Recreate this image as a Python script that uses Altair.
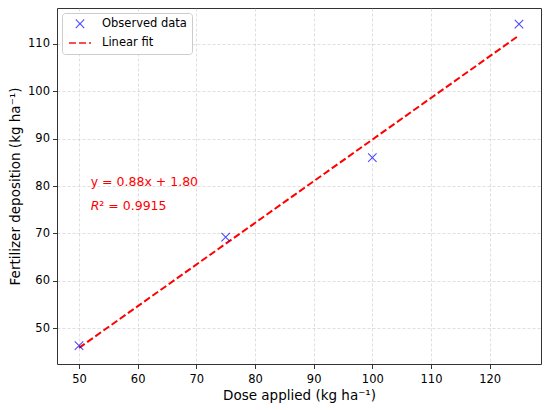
import altair as alt
import pandas as pd

# ---- data ----
dose = [50, 75, 100, 125]
deposition = [46.3, 69.2, 86.0, 114.2]
fit_dose = [50, 125]
fit_deposition = [45.8, 111.8]   # y = 0.88x + 1.80 at the end points
series_names = ["Observed data", "Linear fit"]
series_colors = ["blue", "red"]
x_ticks = [50, 60, 70, 80, 90, 100, 110, 120]
y_ticks = [50, 60, 70, 80, 90, 100, 110]
x_domain = [46.25, 128.75]
y_domain = [42.4, 117.6]
eq_text = "y = 0.88x + 1.80"
r2_value = "² = 0.9915"
eq_pos = [52, 80]
r2_pos = [52, 75]

FONT = "DejaVu Sans"
X_PATH = "M-1,-1L1,1M-1,1L1,-1"

obs = pd.DataFrame({"dose": dose, "dep": deposition, "series": series_names[0]})
fit = pd.DataFrame({"dose": fit_dose, "dep": fit_deposition, "series": series_names[1]})
ann = pd.DataFrame({"x": [eq_pos[0]], "y": [eq_pos[1]], "t": [eq_text]})
r2 = pd.DataFrame({"x": [r2_pos[0]], "y": [r2_pos[1]], "t": ["R"], "t2": [r2_value]})

xs = alt.Scale(domain=x_domain, nice=False, zero=False)
ys = alt.Scale(domain=y_domain, nice=False, zero=False)

x_enc = alt.X("dose:Q", scale=xs,
              axis=alt.Axis(values=x_ticks, title="Dose applied (kg ha⁻¹)", titlePadding=3,
                            labelPadding=5))
y_enc = alt.Y("dep:Q", scale=ys,
              axis=alt.Axis(values=y_ticks, title="Fertilizer deposition (kg ha⁻¹)", titlePadding=5,
                            labelPadding=3))

color = alt.Color("series:N", scale=alt.Scale(domain=series_names, range=series_colors), title=None,
                  legend=alt.Legend(orient="top-left"))
shape = alt.Shape("series:N", scale=alt.Scale(domain=series_names, range=[X_PATH, "stroke"]), title=None)
size = alt.Size("series:N", scale=alt.Scale(domain=series_names, range=[72, 484]), title=None)
dash = alt.StrokeDash("series:N", scale=alt.Scale(domain=series_names, range=[[1, 0], [7, 3]]), title=None)
sw = alt.StrokeWidth("series:N", scale=alt.Scale(domain=series_names, range=[1.1, 2]), title=None)

line = alt.Chart(fit).mark_line(clip=True).encode(
    x=x_enc, y=y_enc, color=color, strokeDash=dash, strokeWidth=sw)

pts = alt.Chart(obs).mark_point(filled=False, clip=True).encode(
    x=x_enc, y=y_enc, color=color, shape=shape, size=size, strokeWidth=sw)

eq = alt.Chart(ann).mark_text(align="left", baseline="alphabetic", color="red",
                              font=FONT, fontSize=12.5).encode(
    x=alt.X("x:Q", scale=xs), y=alt.Y("y:Q", scale=ys), text="t:N")
r_italic = alt.Chart(r2).mark_text(align="left", baseline="alphabetic", color="red",
                                   font=FONT, fontSize=12.5, fontStyle="italic").encode(
    x=alt.X("x:Q", scale=xs), y=alt.Y("y:Q", scale=ys), text="t:N")
r_rest = alt.Chart(r2).mark_text(align="left", baseline="alphabetic", color="red",
                                 font=FONT, fontSize=12.5, dx=8.6).encode(
    x=alt.X("x:Q", scale=xs), y=alt.Y("y:Q", scale=ys), text="t2:N")

chart = alt.layer(line, pts, eq, r_italic, r_rest).properties(
    width=484, height=356,
    autosize=alt.AutoSizeParams(type="none"),
    padding={"left": 49, "top": 0, "right": 1, "bottom": 42},
).configure_view(
    stroke="#333333", strokeWidth=1
).configure_axis(
    labelFont=FONT, labelFontSize=11.5, labelColor="black",
    titleFont=FONT, titleFontSize=13.5, titleColor="black", titleFontWeight="normal",
    tickColor="black", tickSize=4.5, tickWidth=0.8,
    domain=False,
    grid=True, gridColor="#b0b0b0", gridOpacity=0.5, gridDash=[3, 2], gridWidth=0.8,
).configure_legend(
    labelFont=FONT, labelFontSize=11.5, labelColor="black",
    fillColor="white", strokeColor="#cccccc", cornerRadius=3,
    padding=5, offset=5, rowPadding=-6, symbolOffset=1, labelOffset=10,
)

chart.save("out.html", embed_options={"renderer": "svg", "actions": False})
